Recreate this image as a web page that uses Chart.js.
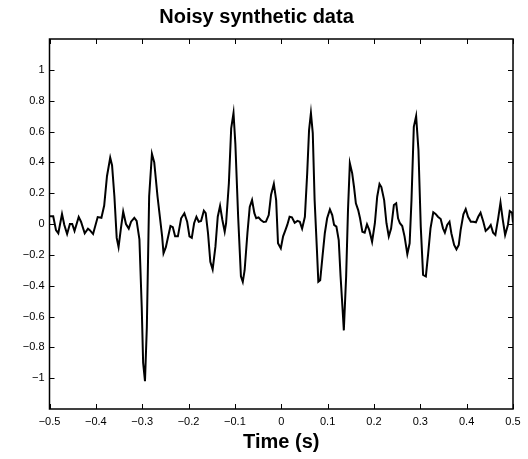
<!DOCTYPE html>
<html>
<head>
<meta charset="utf-8">
<script src="https://cdn.jsdelivr.net/npm/chart.js@4/dist/chart.umd.min.js"></script>
<style>
  html, body { margin: 0; padding: 0; background: #fff; overflow: hidden; }
  #grafico { display: block; }
</style>
</head>
<body>
<canvas id="grafico" width="528" height="459"></canvas>
<script>
// tempo (s) e amplitude
var tempo = [
  -0.5, -0.497, -0.492, -0.486, -0.481, -0.473, -0.468, -0.462, -0.456, -0.451,
  -0.446, -0.437, -0.432, -0.424, -0.417, -0.413, -0.406, -0.396, -0.388, -0.382,
  -0.376, -0.369, -0.365, -0.360, -0.355, -0.351, -0.346, -0.341, -0.335, -0.329,
  -0.324, -0.317, -0.312, -0.306, -0.301, -0.298, -0.294, -0.290, -0.285, -0.279,
  -0.274, -0.267, -0.257, -0.254, -0.249, -0.239, -0.234, -0.229, -0.223, -0.216,
  -0.209, -0.203, -0.198, -0.193, -0.188, -0.183, -0.178, -0.173, -0.167, -0.163,
  -0.158, -0.153, -0.148, -0.142, -0.137, -0.132, -0.127, -0.122, -0.119, -0.113,
  -0.108, -0.103, -0.099, -0.093, -0.087, -0.083, -0.079, -0.073, -0.068, -0.063,
  -0.058, -0.054, -0.049, -0.044, -0.038, -0.033, -0.027, -0.022, -0.016, -0.011,
  -0.007, -0.001, 0.004, 0.009, 0.013, 0.018, 0.023, 0.029, 0.035, 0.040,
  0.045, 0.051, 0.056, 0.060, 0.064, 0.068, 0.072, 0.077, 0.080, 0.084,
  0.089, 0.094, 0.099, 0.105, 0.110, 0.114, 0.119, 0.124, 0.128, 0.132,
  0.135, 0.140, 0.144, 0.148, 0.153, 0.157, 0.161, 0.166, 0.170, 0.175,
  0.180, 0.185, 0.190, 0.196, 0.202, 0.207, 0.212, 0.216, 0.222, 0.227,
  0.232, 0.237, 0.243, 0.248, 0.252, 0.256, 0.261, 0.266, 0.272, 0.277,
  0.281, 0.286, 0.291, 0.296, 0.301, 0.306, 0.312, 0.317, 0.322, 0.328,
  0.333, 0.338, 0.344, 0.349, 0.353, 0.358, 0.363, 0.367, 0.373, 0.378,
  0.383, 0.387, 0.393, 0.398, 0.403, 0.409, 0.414, 0.420, 0.425, 0.430,
  0.436, 0.441, 0.447, 0.452, 0.457, 0.462, 0.468, 0.473, 0.478, 0.483,
  0.489, 0.493, 0.498, 0.5
];
var amplitude = [
  0.05, 0.05, 0.05, -0.04, -0.06, 0.065, -0.006, -0.065, 0.0, 0.0,
  -0.045, 0.045, 0.015, -0.06, -0.03, -0.04, -0.065, 0.045, 0.04, 0.12,
  0.31, 0.43, 0.38, 0.18, -0.09, -0.15, -0.03, 0.08, 0.0, -0.03,
  0.015, 0.04, 0.02, -0.1, -0.54, -0.9, -1.02, -0.67, 0.18, 0.455,
  0.40, 0.18, -0.08, -0.19, -0.15, -0.013, -0.02, -0.08, -0.08, 0.037,
  0.07, 0.015, -0.08, -0.09, 0.005, 0.047, 0.015, 0.02, 0.086, 0.07,
  -0.06, -0.245, -0.295, -0.147, 0.047, 0.117, 0.026, -0.05, 0.005, 0.264,
  0.62, 0.72, 0.52, 0.047, -0.34, -0.375, -0.30, -0.06, 0.11, 0.155,
  0.07, 0.037, 0.043, 0.026, 0.013, 0.015, 0.058, 0.19, 0.26, 0.155,
  -0.125, -0.158, -0.08, -0.04, -0.006, 0.047, 0.043, 0.008, 0.02, 0.015,
  -0.03, 0.047, 0.33, 0.61, 0.72, 0.59, 0.155, -0.17, -0.375, -0.365,
  -0.21, -0.06, 0.037, 0.095, 0.058, -0.006, -0.017, -0.104, -0.34, -0.537,
  -0.69, -0.34, 0.09, 0.394, 0.33, 0.24, 0.134, 0.09, 0.037, -0.05,
  -0.056, -0.002, -0.04, -0.115, 0.005, 0.177, 0.26, 0.24, 0.155, 0.005,
  -0.08, -0.03, 0.123, 0.134, 0.037, 0.005, -0.013, -0.08, -0.195, -0.125,
  0.155, 0.63, 0.70, 0.48, -0.017, -0.33, -0.34, -0.19, -0.028, 0.076,
  0.065, 0.047, 0.032, -0.028, -0.056, -0.006, 0.015, -0.06, -0.136, -0.164,
  -0.136, -0.04, 0.063, 0.097, 0.047, 0.015, 0.015, 0.011, 0.047, 0.073,
  0.015, -0.045, -0.028, -0.006, -0.056, -0.071, 0.037, 0.138, 0.026, -0.071,
  -0.006, 0.084, 0.073, 0.01
];
var ticksX = [-0.5, -0.4, -0.3, -0.2, -0.1, 0, 0.1, 0.2, 0.3, 0.4, 0.5];
var ticksY = [-1, -0.8, -0.6, -0.4, -0.2, 0, 0.2, 0.4, 0.6, 0.8, 1];

var fonte = "'Liberation Sans', Arial, Helvetica, sans-serif";

var pontos = [];
for (var i = 0; i < tempo.length; i++) {
  pontos.push({ x: tempo[i], y: amplitude[i] });
}

function rotulo(v) {
  var n = Number(v.toFixed(1));
  if (n == 0) return "0";
  return String(n).replace("-", "\u2212");
}

// moldura e tracinhos para dentro, como no matlab
var moldura = {
  id: "moldura",
  afterDraw: function (chart) {
    var c = chart.ctx;
    var a = chart.chartArea;
    var sx = chart.scales.x;
    var sy = chart.scales.y;
    c.save();
    c.strokeStyle = "#000";
    c.lineWidth = 1;
    for (var i = 0; i < ticksX.length; i++) {
      var px = Math.round(sx.getPixelForValue(ticksX[i])) + 0.5;
      c.beginPath();
      c.moveTo(px, a.bottom); c.lineTo(px, a.bottom - 5);
      c.moveTo(px, a.top); c.lineTo(px, a.top + 5);
      c.stroke();
    }
    for (var j = 0; j < ticksY.length; j++) {
      var py = Math.round(sy.getPixelForValue(ticksY[j])) + 0.5;
      c.beginPath();
      c.moveTo(a.left, py); c.lineTo(a.left + 5, py);
      c.moveTo(a.right, py); c.lineTo(a.right - 5, py);
      c.stroke();
    }
    c.lineWidth = 1.5;
    c.strokeRect(a.left, a.top, a.right - a.left, a.bottom - a.top);
    c.restore();
  }
};

var ctx = document.getElementById("grafico");
var grafico = new Chart(ctx, {
  type: "scatter",
  data: {
    datasets: [
      {
        data: pontos,
        showLine: true,
        borderColor: "#000",
        borderWidth: 2,
        pointRadius: 0,
        tension: 0,
      },
    ],
  },
  options: {
    responsive: false,
    animation: false,
    devicePixelRatio: 1,
    layout: { padding: { left: 0, right: 15, top: 0, bottom: 0 } },
    plugins: {
      legend: { display: false },
      tooltip: { enabled: false },
      title: {
        display: true,
        text: "Noisy synthetic data",
        color: "#000",
        font: { family: fonte, size: 20, weight: "bold" },
        padding: { top: 5, bottom: 10 },
      },
    },
    scales: {
      x: {
        type: "linear",
        min: -0.5,
        max: 0.5,
        grid: { display: false, drawTicks: false },
        border: { display: false },
        afterBuildTicks: function (s) {
          s.ticks = ticksX.map(function (v) { return { value: v }; });
        },
        afterFit: function (s) { s.height = 50; },
        ticks: {
          color: "#000",
          padding: 6,
          maxRotation: 0,
          autoSkip: false,
          font: { family: fonte, size: 11 },
          callback: rotulo,
        },
        title: {
          display: true,
          text: "Time (s)",
          color: "#000",
          padding: { top: 0, bottom: 5 },
          font: { family: fonte, size: 20, weight: "bold" },
        },
      },
      y: {
        min: -1.2,
        max: 1.2,
        grid: { display: false, drawTicks: false },
        border: { display: false },
        afterBuildTicks: function (s) {
          s.ticks = ticksY.map(function (v) { return { value: v }; });
        },
        afterFit: function (s) { s.width = 49.5; },
        ticks: {
          color: "#000",
          padding: 5,
          autoSkip: false,
          font: { family: fonte, size: 11 },
          callback: rotulo,
        },
      },
    },
  },
  plugins: [moldura],
});
</script>
</body>
</html>
